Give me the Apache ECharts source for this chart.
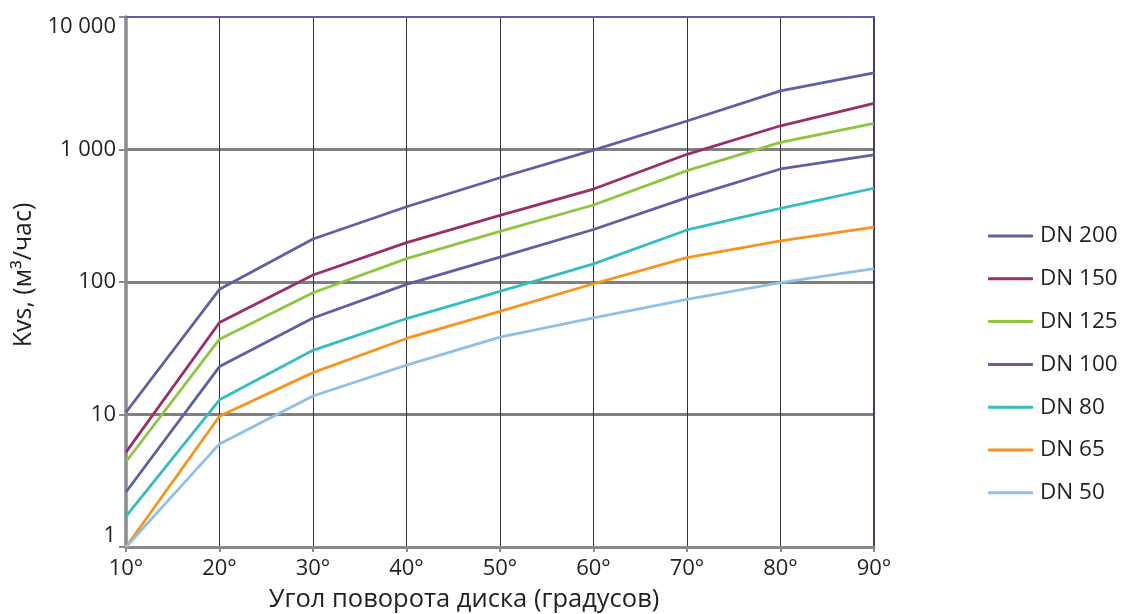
<!DOCTYPE html>
<html>
<head>
<meta charset="utf-8">
<script src="https://cdn.jsdelivr.net/npm/echarts@6/dist/echarts.min.js"></script>
<style>
html,body{margin:0;padding:0;background:#fff;}
#chart{width:1124px;height:614px;}
</style>
</head>
<body>
<div id="chart"></div>
<script>
const angles = [10, 20, 30, 40, 50, 60, 70, 80, 90];
const seriesNames = ['DN 200', 'DN 150', 'DN 125', 'DN 100', 'DN 80', 'DN 65', 'DN 50'];
const dn200 = [10.4, 88, 211, 370, 612, 990, 1640, 2770, 3780];
const dn150 = [5.2, 49.5, 113, 198, 318, 503, 920, 1510, 2230];
const dn125 = [4.4, 37, 83, 150, 241, 381, 692, 1133, 1577];
const dn100 = [2.6, 23, 53.5, 96, 154, 249, 433, 713, 909];
const dn80  = [1.7, 12.9, 30.5, 53, 85, 137, 247, 360, 510];
const dn65  = [1.0, 9.7, 20.7, 37.5, 60, 97, 153, 204, 259];
const dn50  = [1.0, 6.0, 13.8, 23.6, 38.4, 53.7, 74, 99, 126];
const yTickLabels = {1: '1', 10: '10', 100: '100', 1000: '1 000', 10000: '10 000'};
const xAxisTitle = 'Угол поворота диска (градусов)';
const yAxisTitle = 'Kvs, (м³/час)';
const colors = ['#5f60a1', '#9a2f66', '#8dc63f', '#5f60a1', '#36bdc0', '#f7941d', '#8fc0e8'];
const values = [dn200, dn150, dn125, dn100, dn80, dn65, dn50];

const FONT = '"Open Sans", "Noto Sans", sans-serif';
const TXT = '#231f20';
const chart = echarts.init(document.getElementById('chart'));
chart.setOption({
  animation: false,
  grid: {left: 126, right: 250, top: 17, bottom: 67, containLabel: false},
  graphic: [
    {type: 'text', x: 464, y: 600, z: 10,
      style: {text: xAxisTitle, fill: TXT, font: '25.5px ' + FONT, textAlign: 'center', textVerticalAlign: 'middle'}},
    {type: 'text', x: 24, y: 275, rotation: Math.PI / 2, z: 10,
      style: {text: yAxisTitle, fill: TXT, font: '25px ' + FONT, textAlign: 'center', textVerticalAlign: 'middle'}}
  ],
  legend: {
    orient: 'vertical',
    left: 988,
    top: 224,
    padding: 0,
    itemWidth: 45,
    itemHeight: 3,
    itemGap: 18.8,
    icon: 'roundRect',
    textStyle: {fontFamily: FONT, fontSize: 22.5, color: TXT, lineHeight: 24, padding: [0, 0, 0, 2]},
    data: seriesNames
  },
  xAxis: [{
    type: 'value',
    min: 10, max: 90, interval: 10,
    axisLine: {show: true, onZero: false, lineStyle: {color: '#8a8a8e', width: 3}},
    axisTick: {show: true, length: 5, lineStyle: {color: '#8a8a8e', width: 2}},
    axisLabel: {fontFamily: FONT, fontSize: 22, color: TXT, margin: 11, formatter: v => v + '°'},
    splitLine: {show: true, showMinLine: false, showMaxLine: false, lineStyle: {color: '#333333', width: 1}}
  }, {
    type: 'value', position: 'top', min: 10, max: 90, interval: 10,
    axisLine: {show: true, lineStyle: {color: '#5f60a1', width: 2}},
    axisTick: {show: false}, axisLabel: {show: false}, splitLine: {show: false}
  }],
  yAxis: [{
    type: 'log',
    logBase: 10,
    min: 1, max: 10000,
    axisLine: {show: true, lineStyle: {color: '#8a8a8e', width: 3.5}},
    axisTick: {show: true, length: 7, lineStyle: {color: '#8a8a8e', width: 2}},
    axisLabel: {fontFamily: FONT, fontSize: 22, color: TXT, margin: 10,
      formatter: v => {
        const k = Math.round(v);
        const t = yTickLabels[k] || '';
        if (k === 10000) return '{top|' + t + '}';
        if (k === 1) return '{bot|' + t + '}';
        return t;
      },
      rich: {
        top: {fontFamily: FONT, fontSize: 22, color: TXT, padding: [20, 0, 0, 0]},
        bot: {fontFamily: FONT, fontSize: 22, color: TXT, padding: [0, 0, 22, 0]}
      }
    },
    splitLine: {show: true, showMinLine: false, showMaxLine: false, lineStyle: {color: '#808080', width: 3}}
  }, {
    type: 'log', logBase: 10, position: 'right', min: 1, max: 10000,
    axisLine: {show: true, lineStyle: {color: '#3c3f7a', width: 2}},
    axisTick: {show: false}, axisLabel: {show: false}, splitLine: {show: false}
  }],
  series: seriesNames.map((name, i) => ({
    name: name,
    type: 'line',
    xAxisIndex: 0,
    yAxisIndex: 0,
    data: angles.map((a, j) => [a, values[i][j]]),
    showSymbol: false,
    symbol: 'none',
    smooth: false,
    color: colors[i],
    lineStyle: {color: colors[i], width: 2.8},
    z: 3 + i
  }))
});
</script>
</body>
</html>
